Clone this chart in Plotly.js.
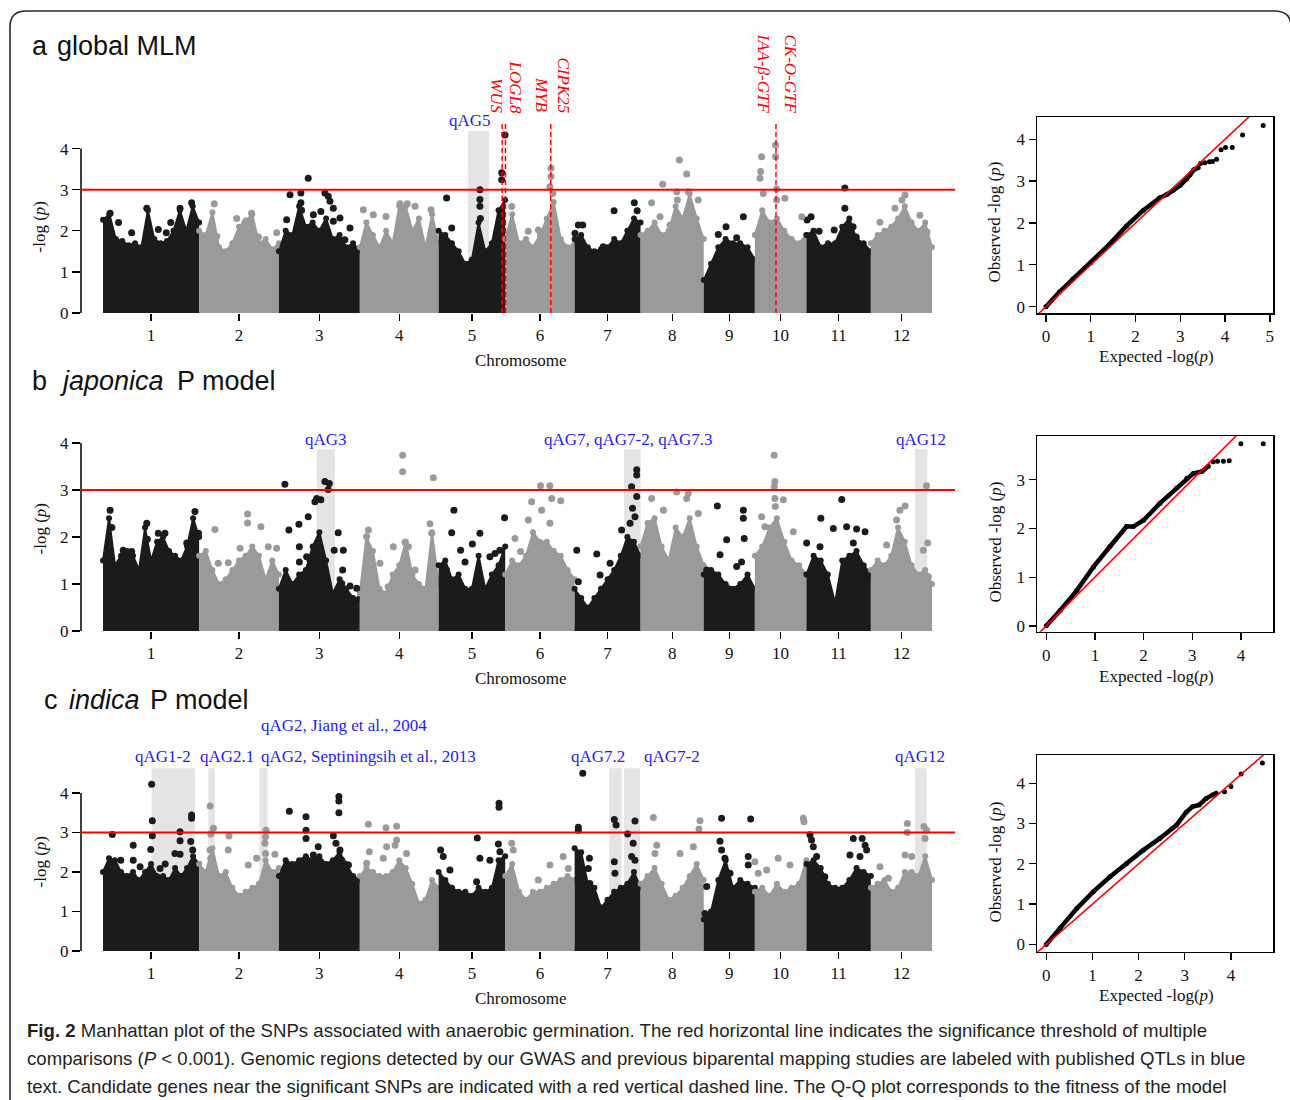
<!DOCTYPE html>
<html><head><meta charset="utf-8">
<script src="https://cdn.plot.ly/plotly-3.0.1.min.js"></script>
<style>html,body{margin:0;padding:0;background:#fff}#chart{width:1290px;height:1100px}</style>
</head><body><div id="chart"></div>
<script>
// ---------------- DATA ----------------
const chrNames = ['1','2','3','4','5','6','7','8','9','10','11','12'];
const chrLen = [43.27,35.94,36.41,35.50,29.96,31.25,29.70,28.44,23.01,23.21,29.02,27.53]; // Mb

// Panel a (global MLM): upper outline of the dense SNP cloud per chromosome (-log p), evenly along chromosome
const envA = [
 [2.27,2.4,1.8,1.75,1.65,1.7,1.6,2.5,1.8,1.7,1.75,2.0,2.5,2.0,2.6,2.2],
 [2.0,1.9,2.45,1.6,1.5,1.7,2.1,2.25,2.4,1.7,1.8,1.55,1.7],
 [1.5,2.0,1.9,2.6,2.1,2.2,2.0,2.3,1.8,1.9,1.6,1.7,1.5],
 [1.6,2.2,1.9,1.6,2.0,1.7,2.6,2.6,2.0,2.3,1.6,2.4,1.7],
 [2.0,1.9,1.7,1.5,1.2,1.3,2.2,1.5,1.7,2.5,2.75],
 [1.8,2.4,1.7,1.8,1.6,1.9,2.3,2.7,1.8,1.6,1.7],
 [1.8,1.9,1.6,1.5,1.55,1.6,1.8,1.7,2.0,2.3,2.2],
 [1.9,2.0,2.2,1.9,2.0,2.6,2.3,2.9,2.3,1.8],
 [0.8,1.2,1.6,1.8,1.7,1.7,1.6,1.3],
 [1.9,2.5,2.2,2.3,2.0,1.8,1.7,1.9],
 [1.9,2.0,1.6,1.7,1.7,2.1,2.3,1.8,1.7,1.5],
 [1.7,1.9,2.0,2.1,2.3,2.6,2.2,2.0,2.2,1.6]
];
// Panel a: individual top SNPs [genome position Mb, -log p]
const snpA = [
 [3.2,2.43],[19.7,2.55],[39.9,2.68],[34.7,2.55],[12.9,1.95],[24.9,2.03],[28.5,1.95],[7,2.2],[30.5,2.2],
 [50.1,2.66],[60.2,2.30],[66.9,2.43],[51.2,1.87],[78.2,1.95],[64,2.2],[70,1.85],
 [92.4,3.28],[84.2,2.88],[89.1,2.92],[89.1,2.68],[89.4,2.5],[99.9,2.92],[101.4,2.84],[102.2,2.72],[94.7,2.39],[98.1,2.47],[103.7,2.55],[82.7,2.27],[106.7,2.31],[111.2,2.07],[108.9,1.78],[103.7,2.23],
 [117.2,2.51],[121.7,2.39],[127.4,2.35],[133.7,2.66],[137.0,2.66],[140.5,2.6],[147.7,2.51],[119.9,1.9],
 [154.7,2.80],[169.7,3.0],[169.7,2.76],[169.7,2.6],[169.9,2.3],[157.0,2.07],[179.5,3.41],[179.5,3.24],[181.0,4.33],
 [201.7,3.52],[201.7,3.32],[201.2,3.07],[202.5,2.91],[202.7,2.26],[184.0,2.59],[196.0,2.02],[191.5,1.99],
 [212.5,1.94],[214.0,2.14],[216.0,2.14],[230.1,2.49],[239.2,2.68],[240.5,2.49],[225.2,1.61],
 [247.0,2.68],[250.8,2.34],[252.0,3.13],[259.5,3.72],[262.8,3.38],[258.3,2.95],[258.6,2.75],[268.0,2.75],[255.3,2.14],[263.5,2.95],
 [280.5,2.10],[288.3,2.34],[285.3,1.83],[277.0,1.91],
 [296.5,3.80],[296.1,3.44],[295.8,3.28],[297.3,2.91],[302.8,4.09],[302.8,3.80],[303.3,3.02],[303.3,2.75],[307.0,2.79],[314.6,2.34],
 [334.0,3.04],[334.0,2.55],[317.0,2.26],[318.8,2.34],[322.4,1.99],[329.2,2.02],[337.7,2.1],[339.1,1.85],
 [361.1,2.87],[359.7,2.75],[356.6,2.55],[349.8,2.21],[367.8,2.38],[371.0,1.97]
];

// Panel b (japonica P model)
const envB = [
 [1.5,2.4,1.4,1.6,1.7,1.6,1.3,2.2,1.5,1.9,2.0,1.7,1.6,1.5,1.8,2.4,2.0],
 [1.6,1.7,1.3,1.0,1.1,1.3,1.5,1.6,1.8,1.6,1.1,1.5,1.2],
 [0.9,1.3,1.0,1.2,1.3,1.8,2.1,1.5,0.8,1.1,0.9,0.7,0.7],
 [0.8,2.0,1.7,0.9,0.8,1.2,1.4,1.9,1.2,1.0,0.9,2.1,1.0],
 [1.4,1.5,1.1,1.2,0.9,0.9,1.6,0.9,1.2,1.4,1.8],
 [1.2,1.5,1.4,1.6,2.1,1.9,1.9,1.7,1.6,1.3,1.1],
 [0.9,0.7,0.5,0.7,0.9,1.1,1.3,1.6,2.0,1.9,1.6],
 [1.8,2.3,2.4,1.8,1.5,2.2,2.0,2.4,1.8,1.4],
 [1.2,1.3,1.2,1.0,0.9,1.0,1.2,0.9],
 [1.6,1.8,2.2,2.4,1.9,1.5,1.4,1.2],
 [1.2,1.6,1.5,1.2,0.6,1.5,1.6,1.7,1.4,1.2],
 [1.3,1.5,1.4,1.6,2.2,1.9,1.4,1.2,1.3,1.0]
];
const snpB = [
 [3.2,2.57],[9.1,1.72],[12.9,1.69],[19.7,2.29],[24.9,2.08],[27.9,2.08],[41.4,2.54],[43.0,2.08],[37.7,1.87],[11.4,1.16],[15.2,1.23],[20,1.95],[4,2.2],
 [50.4,2.16],[65.1,2.49],[65.1,2.30],[71.1,2.22],[61.7,1.76],[74.4,1.79],[78.2,1.76],[51.9,1.44],[56.4,1.45],[73.7,1.01],
 [81.9,3.12],[83.7,2.15],[88.2,2.27],[88.4,1.79],[92.4,2.43],[95.4,2.75],[96.2,2.82],[98.1,2.79],[99.9,3.18],[101.9,3.14],[101.4,3.01],[98.5,1.58],[105.9,2.09],[108.2,1.72],[104.1,1.72],[107.9,1.30],[111.2,0.96],[114.2,0.91],[107.5,1.01],[88.4,1.47],[93.2,1.51],[91.7,1.58],
 [134.9,3.74],[134.9,3.39],[148.7,3.26],[119.5,2.15],[118.7,2.01],[130.7,1.79],[136.0,1.89],[137.5,1.79],[147.2,2.28],[148.0,2.08],[128.4,0.94],[140.5,1.30],[124.7,1.44],
 [158.0,2.57],[157.0,2.09],[161.0,1.72],[163.0,1.47],[169.7,2.08],[166.3,1.85],[174.2,1.58],[176.5,1.65],[180.8,2.41],[178.7,1.72],[154.7,1.30],[163.7,0.73],
 [197.0,3.09],[201.2,3.09],[202.0,2.82],[206.1,2.77],[193.0,2.75],[197.5,2.57],[201.2,2.29],[191.5,2.36],[185.5,1.97],[188.0,1.69],
 [238.0,3.07],[240.3,3.43],[240.3,3.32],[240.3,2.86],[238.4,2.61],[239.5,2.43],[237.3,2.29],[233.5,2.15],[213.3,1.72],[222.3,1.64],[223.8,1.19],[228.3,1.44],[214.0,1.05],
 [247.0,2.82],[252.3,2.57],[258.3,2.96],[263.5,2.93],[268.0,2.50],[262.8,2.82],
 [276.6,2.66],[280.8,1.94],[277.8,1.62],[288.3,2.57],[288.3,2.40],[288.7,1.97],[285.3,1.37],[287.5,1.47],[271.8,1.30],[291.3,0.87],
 [302.2,3.74],[302.5,3.18],[302.2,3.07],[302.5,2.82],[302.7,2.65],[306.3,2.79],[296.5,2.43],[310.8,2.11],[298.0,2.22],
 [332.6,2.80],[323.2,2.40],[328.8,2.18],[334.8,2.22],[339.3,2.17],[343.1,2.11],[316.8,1.87],[322.8,1.79],[337.8,1.87],
 [361.1,2.66],[358.8,2.57],[357.3,2.36],[370.8,3.09],[371.3,1.87],[369.3,1.72],[371.6,1.16],[352.8,1.83]
];

// Panel c (indica P model)
const envC = [
 [2.0,2.35,2.3,2.0,1.9,2.0,1.8,2.0,2.2,1.9,1.9,1.8,2.1,1.9,2.1,2.4,2.2],
 [2.2,2.0,2.6,1.9,2.0,1.6,1.4,1.5,1.6,1.7,2.3,2.0,2.1],
 [1.9,2.3,2.2,2.3,2.4,2.3,2.4,2.2,2.3,2.5,2.2,1.9,1.8],
 [1.9,2.1,2.0,1.9,1.9,2.0,2.3,2.1,1.7,1.2,1.3,1.8,1.6],
 [2.0,1.8,1.6,1.5,1.5,1.4,1.6,1.5,1.6,2.3,2.4],
 [1.9,2.2,1.5,1.3,1.5,1.5,1.6,1.7,1.8,1.9,1.8],
 [2.6,2.5,1.7,1.6,1.1,1.3,1.5,1.6,1.7,2.0,1.6],
 [1.7,1.9,2.1,1.7,1.3,1.4,1.6,1.9,2.2,1.8],
 [0.8,1.0,1.8,2.3,1.6,1.8,1.7,1.6],
 [1.5,1.6,1.4,1.7,1.5,1.6,1.7,2.3],
 [2.2,2.3,2.1,1.7,1.6,1.6,1.8,2.1,2.0,1.9],
 [1.6,1.7,1.8,1.5,1.6,2.0,2.0,1.9,2.4,1.8]
];
const snpC = [
 [4.2,2.95],[13.6,2.68],[13.6,2.30],[21.9,4.22],[22.2,3.30],[22.2,2.92],[21.5,2.57],[34.7,3.02],[34.7,2.79],[34.7,2.45],[39.9,3.44],[39.9,3.36],[39.5,2.77],[40.4,2.56],[32.4,2.47],[25.7,2.09],[16.7,2.13],[8,2.3],[28,2.2],
 [48.2,3.67],[49.7,3.11],[48.5,2.96],[48.2,2.56],[48.5,2.35],[56.7,2.91],[56.4,2.56],[65.4,2.18],[69.2,2.35],[73.4,3.06],[73.2,2.89],[72.9,2.73],[73.2,2.47],[77.4,2.45],
 [83.9,3.54],[91.4,3.40],[91.4,3.06],[91.4,2.85],[96.9,2.64],[94.7,2.43],[103.7,2.92],[104.9,2.73],[106.2,3.91],[106.2,3.80],[106.2,3.50],[106.7,2.56],[107.5,2.30],[110.5,2.18],
 [119.5,3.21],[127.4,3.12],[132.2,3.16],[132.2,2.81],[131.5,2.68],[119.9,2.51],[127.7,2.64],[136.7,2.47],[118.7,2.22],[126.2,2.35],
 [152.0,2.56],[153.2,2.39],[156.2,2.05],[168.5,2.86],[169.7,2.35],[174.2,2.30],[178.3,3.74],[178.3,3.64],[178.0,2.71],[178.7,2.51],[168.2,1.75],
 [184.0,2.73],[184.7,2.56],[196.0,1.80],[201.2,2.18],[207.2,2.39],[209.5,2.09],
 [214.0,3.13],[214.0,3.06],[216.0,4.50],[219.0,2.35],[218.5,2.09],[219.2,1.71],[230.2,3.33],[231.0,3.19],[230.2,2.26],[230.5,1.97],[239.5,3.29],[236.2,2.96],[238.7,2.73],[238.0,2.39],[239.5,2.30],
 [247.8,3.38],[249.3,2.68],[248.5,2.47],[259.8,2.47],[265.8,2.64],[268.8,3.30],[268.3,3.09],
 [278.5,3.36],[277.8,2.78],[278.5,2.56],[280.0,2.35],[282.3,1.97],[290.5,2.39],[290.5,2.18],[291.6,3.34],[271.8,1.63],[271.0,0.95],
 [293.5,2.26],[298.8,2.05],[304.0,2.35],[309.3,2.18],[295.0,1.97],[315.3,3.36],[315.6,3.27],
 [318.3,2.94],[319.0,2.81],[319.8,2.64],[321.3,2.39],[337.8,2.85],[341.8,2.85],[343.1,2.68],[343.8,2.56],[336.3,2.43],[340.8,2.39],[325.0,1.88],
 [362.1,3.23],[362.1,3.00],[369.6,3.15],[370.8,3.06],[370.1,2.85],[361.1,2.43],[364.1,2.39],[349.8,2.13],[353.6,1.84]
];

// QTL regions (genome Mb)
const qtlA = [[164.3,173.8]];
const qtlB = [[96.2,104.4],[234.6,242.1],[365.6,371.1]];
const qtlC = [[21.9,41.4],[47.4,50.4],[70.4,74.1],[227.9,233.5],[234.6,241.8],[365.6,370.8]];
const qtlLabelsA = ['qAG5'];
const qtlLabelsB = ['qAG3','qAG7, qAG7-2, qAG7.3','qAG12'];
const qtlLabelsC = ['qAG1-2','qAG2.1','qAG2, Septiningsih et al., 2013','qAG2, Jiang et al., 2004','qAG7.2','qAG7-2','qAG12'];
// candidate genes (panel a)
const geneLinePos = [179.7,181.2,201.6,303.0];
const geneNames = ['WUS','LOGL8','MYB','CIPK25','IAA-β-GTF','CK-O-GTF'];
const threshold = 3;

// Q-Q plots [expected, observed]
const qqA = [[0,0],[0.3,0.35],[0.6,0.66],[1.0,1.05],[1.4,1.47],[1.8,1.93],[2.17,2.3],[2.54,2.6],[2.7,2.68],[2.84,2.78],[3.0,2.9],[3.14,3.05],[3.22,3.15],[3.3,3.27],[3.4,3.32]];
const qqAtail = [[3.45,3.42],[3.55,3.44],[3.65,3.46],[3.72,3.47],[3.81,3.52],[3.91,3.75],[4.01,3.8],[4.16,3.8],[4.39,4.1],[4.85,4.33]];
const qqB = [[0,0],[0.29,0.32],[0.63,0.73],[0.97,1.21],[1.31,1.63],[1.65,2.04],[1.79,2.04],[2.0,2.17],[2.34,2.52],[2.68,2.83],[2.89,3.03],[3.02,3.13],[3.2,3.17],[3.33,3.28]];
const qqBtail = [[3.43,3.37],[3.52,3.38],[3.64,3.38],[3.76,3.39],[4.0,3.74],[4.46,3.74]];
const qqC = [[0,0],[0.3,0.4],[0.66,0.89],[1.02,1.31],[1.38,1.68],[1.74,2.01],[2.1,2.34],[2.46,2.63],[2.82,2.96],[3.03,3.28],[3.17,3.42],[3.31,3.46],[3.46,3.62],[3.6,3.71],[3.68,3.75]];
const qqCtail = [[3.86,3.79],[4.0,3.92],[4.22,4.23],[4.68,4.5]];

// ---------------- BUILD ----------------
const W = 1290, H = 1100;
const fx = p => p / W, fy = p => 1 - p / H;
const SERIF = 'Liberation Serif, Times New Roman, serif';
const SANS = 'Liberation Sans, Arial, sans-serif';
const BLACK = '#1b1b1b', GREY = '#9a9a9a', RED = '#ff0000', BLUE = 'rgb(28,28,245)';

const chrStart = [];
chrLen.reduce((acc, l, i) => { chrStart[i] = acc; return acc + l; }, 0);
const genomeLen = chrStart[11] + chrLen[11];
const chrCenter = chrLen.map((l, i) => chrStart[i] + l / 2);
const chrOf = pos => { let k = 0; for (let i = 0; i < 12; i++) if (pos >= chrStart[i]) k = i; return k; };
const colOf = i => (i % 2 === 0 ? BLACK : GREY);

const traces = [];
function manhattan(env, snps, xa, ya) {
  env.forEach((vals, i) => {
    const n = vals.length;
    const xs = vals.map((_, j) => chrStart[i] + j * chrLen[i] / (n - 1));
    const c = colOf(i);
    traces.push({type:'scatter', x:xs, y:vals, xaxis:xa, yaxis:ya, mode:'lines+markers',
      fill:'tozeroy', fillcolor:c, line:{color:c, width:2}, marker:{color:c, size:6},
      hoverinfo:'skip', cliponaxis:false});
  });
  [0,1].forEach(par => {
    const pts = snps.filter(p => chrOf(p[0]) % 2 === par);
    traces.push({type:'scatter', x:pts.map(p=>p[0]), y:pts.map(p=>p[1]), xaxis:xa, yaxis:ya,
      mode:'markers', marker:{color: par===0?BLACK:GREY, size:7}, hoverinfo:'skip', cliponaxis:false});
  });
}
function qq(dense, tail, xa, ya) {
  traces.push({type:'scatter', x:dense.map(p=>p[0]), y:dense.map(p=>p[1]), xaxis:xa, yaxis:ya,
    mode:'lines+markers', line:{color:'#000', width:4.5}, marker:{color:'#000', size:5}, hoverinfo:'skip'});
  traces.push({type:'scatter', x:tail.map(p=>p[0]), y:tail.map(p=>p[1]), xaxis:xa, yaxis:ya,
    mode:'markers', marker:{color:'#000', size:5}, hoverinfo:'skip', cliponaxis:false});
  traces.push({type:'scatter', x:[-1,7], y:[-1,7], xaxis:xa, yaxis:ya, mode:'lines',
    line:{color:RED, width:1.6}, hoverinfo:'skip'});
}
manhattan(envA, snpA, 'x', 'y');
qq(qqA, qqAtail, 'x2', 'y2');
manhattan(envB, snpB, 'x3', 'y3');
qq(qqB, qqBtail, 'x4', 'y4');
manhattan(envC, snpC, 'x5', 'y5');
qq(qqC, qqCtail, 'x6', 'y6');

// axes
const tickFont = {family:SERIF, size:17, color:'#111'};
function manX(anchor) {
  return {domain:[fx(81), fx(955)], range:[(81-103)/2.2211, (955-103)/2.2211], anchor:anchor,
    tickvals:chrCenter, ticktext:chrNames, ticks:'outside', ticklen:7, tickwidth:1.3, tickcolor:'#000',
    showgrid:false, zeroline:false, showline:false, tickfont:tickFont, fixedrange:true};
}
function manY(anchor, py0, pyTop, unit) {
  return {domain:[fy(py0), fy(pyTop)], range:[0, (py0-pyTop)/unit], anchor:anchor,
    tickvals:[0,1,2,3,4], ticks:'outside', ticklen:8, tickwidth:1.3, tickcolor:'#000',
    showgrid:false, zeroline:false, showline:false, tickfont:tickFont, fixedrange:true};
}
function qqX(anchor, range, maxTick) {
  return {domain:[fx(1037), fx(1273)], range:range, anchor:anchor,
    tickvals:[...Array(maxTick+1).keys()], ticks:'outside', ticklen:7, tickwidth:1.3, tickcolor:'#000',
    showline:true, mirror:true, linecolor:'#000', linewidth:1.5,
    showgrid:false, zeroline:false, tickfont:tickFont, fixedrange:true};
}
function qqY(anchor, range, maxTick, py0, pyTop) {
  return {domain:[fy(py0), fy(pyTop)], range:range, anchor:anchor,
    tickvals:[...Array(maxTick+1).keys()], ticks:'outside', ticklen:7, tickwidth:1.3, tickcolor:'#000',
    showline:true, mirror:true, linecolor:'#000', linewidth:1.5,
    showgrid:false, zeroline:false, tickfont:tickFont, fixedrange:true};
}

const shapes = [];
const annotations = [];
function ann(text, px, py, o) {
  annotations.push(Object.assign({text:text, x:fx(px), y:fy(py), xref:'paper', yref:'paper',
    showarrow:false, xanchor:'center', yanchor:'middle', font:{family:SERIF, size:17, color:'#111'}}, o||{}));
}
function manDeco(xa, ya, qtls, boxTop) {
  qtls.forEach(q => shapes.push({type:'rect', xref:xa, yref:ya, x0:q[0], x1:q[1], y0:0, y1:boxTop,
    fillcolor:'#e4e4e4', line:{width:0}, layer:'below'}));
  shapes.push({type:'line', xref:xa, yref:ya, x0:0, x1:genomeLen, y0:0, y1:0, line:{color:'#000', width:1}, layer:'below'});
  shapes.push({type:'line', xref:'paper', yref:ya, x0:fx(81), x1:fx(81), y0:0, y1:4, line:{color:'#000', width:1.5}});
  shapes.push({type:'line', xref:'paper', yref:ya, x0:fx(81), x1:fx(955), y0:threshold, y1:threshold, line:{color:RED, width:2}});
}
manDeco('x', 'y', qtlA, 4.43);
manDeco('x3', 'y3', qtlB, 3.866);
manDeco('x5', 'y5', qtlC, 4.625);
geneLinePos.forEach(g => shapes.push({type:'line', xref:'x', yref:'y', x0:g, x1:g, y0:0, y1:4.67,
  line:{color:RED, width:1.5, dash:'5px,3px'}}));

// border
const bp = `M ${fx(10)},${fy(1105)} L ${fx(10)},${fy(27)} Q ${fx(10)},${fy(11)} ${fx(26)},${fy(11)} L ${fx(1275)},${fy(11)} Q ${fx(1291)},${fy(11)} ${fx(1291)},${fy(27)} L ${fx(1291)},${fy(1105)}`;
shapes.push({type:'path', xref:'paper', yref:'paper', path:bp, line:{color:'#2a2a2a', width:1.6}});

// panel titles
const T = {family:SANS, size:27, color:'#111'};
ann('a', 30, 46, {xanchor:'left', font:T});
ann('global MLM', 55, 46, {xanchor:'left', font:T});
ann('b', 30, 381, {xanchor:'left', font:T});
ann('<i>japonica</i>', 57, 381, {xanchor:'left', font:T});
ann('P model', 175, 381, {xanchor:'left', font:T});
ann('c', 42, 700, {xanchor:'left', font:T});
ann('<i>indica</i>', 67, 700, {xanchor:'left', font:T});
ann('P model', 148, 700, {xanchor:'left', font:T});

// axis titles
[[227,360],[529,678],[862,998]].forEach(([yc, yx]) => {
  ann('-log (<i>p</i>)', 39.5, yc, {textangle:-90});
  ann('Chromosome', 521, yx);
});
[[222,356],[542,676],[862,996]].forEach(([yc, yx]) => {
  ann('Observed -log (<i>p</i>)', 994.5, yc, {textangle:-90});
  ann('Expected -log(<i>p</i>)', 1156.5, yx);
});

// QTL labels (blue)
const B = {family:SERIF, size:17, color:BLUE};
ann(qtlLabelsA[0], 470, 120, {font:B});
ann(qtlLabelsB[0], 326, 439, {font:B});
ann(qtlLabelsB[1], 628, 439, {font:B});
ann(qtlLabelsB[2], 920.5, 439, {font:B});
ann(qtlLabelsC[0], 162.5, 756, {font:B});
ann(qtlLabelsC[1], 227, 756, {font:B});
ann(qtlLabelsC[2], 259, 756, {font:B, xanchor:'left'});
ann(qtlLabelsC[3], 259, 725, {font:B, xanchor:'left'});
ann(qtlLabelsC[4], 598, 756, {font:B});
ann(qtlLabelsC[5], 641.5, 756, {font:B, xanchor:'left'});
ann(qtlLabelsC[6], 920, 756, {font:B});

// gene labels (red, rotated)
const G = {family:SERIF, size:17, color:RED};
[496.5, 515, 541, 562.5, 762.5, 790].forEach((px, i) =>
  ann('<i>' + geneNames[i] + '</i>', px, 115, {font:G, textangle:90, yanchor:'bottom'}));

// caption
const C = {family:'Liberation Sans, Arial, sans-serif', size:18.6, color:'#231f20'};
ann('<b>Fig. 2</b> Manhattan plot of the SNPs associated with anaerobic germination. The red horizontal line indicates the significance threshold of multiple', 25, 1030, {xanchor:'left', font:C});
ann('comparisons (<i>P</i> &lt; 0.001). Genomic regions detected by our GWAS and previous biparental mapping studies are labeled with published QTLs in blue', 25, 1058, {xanchor:'left', font:C});
ann('text. Candidate genes near the significant SNPs are indicated with a red vertical dashed line. The Q-Q plot corresponds to the fitness of the model', 25, 1086, {xanchor:'left', font:C});

const layout = {
  width:W, height:H, margin:{l:0, r:0, t:0, b:0}, paper_bgcolor:'#fff', plot_bgcolor:'rgba(0,0,0,0)',
  showlegend:false, font:{family:SERIF, size:17, color:'#111'},
  xaxis:manX('y'), yaxis:manY('x', 313, 118, 41.1),
  xaxis2:qqX('y2', [-0.2, 5.07], 5), yaxis2:qqY('x2', [-0.15, 4.53], 4, 313, 117),
  xaxis3:manX('y3'), yaxis3:manY('x3', 631, 440, 47),
  xaxis4:qqX('y4', [-0.19, 4.66], 4), yaxis4:qqY('x4', [-0.12, 3.9], 3, 631.7, 436),
  xaxis5:manX('y5'), yaxis5:manY('x5', 951, 765, 39.5),
  xaxis6:qqX('y6', [-0.2, 4.91], 4), yaxis6:qqY('x6', [-0.18, 4.70], 4, 951.7, 755),
  shapes:shapes, annotations:annotations
};
Plotly.newPlot('chart', traces, layout, {displayModeBar:false, staticPlot:true});
</script></body></html>
